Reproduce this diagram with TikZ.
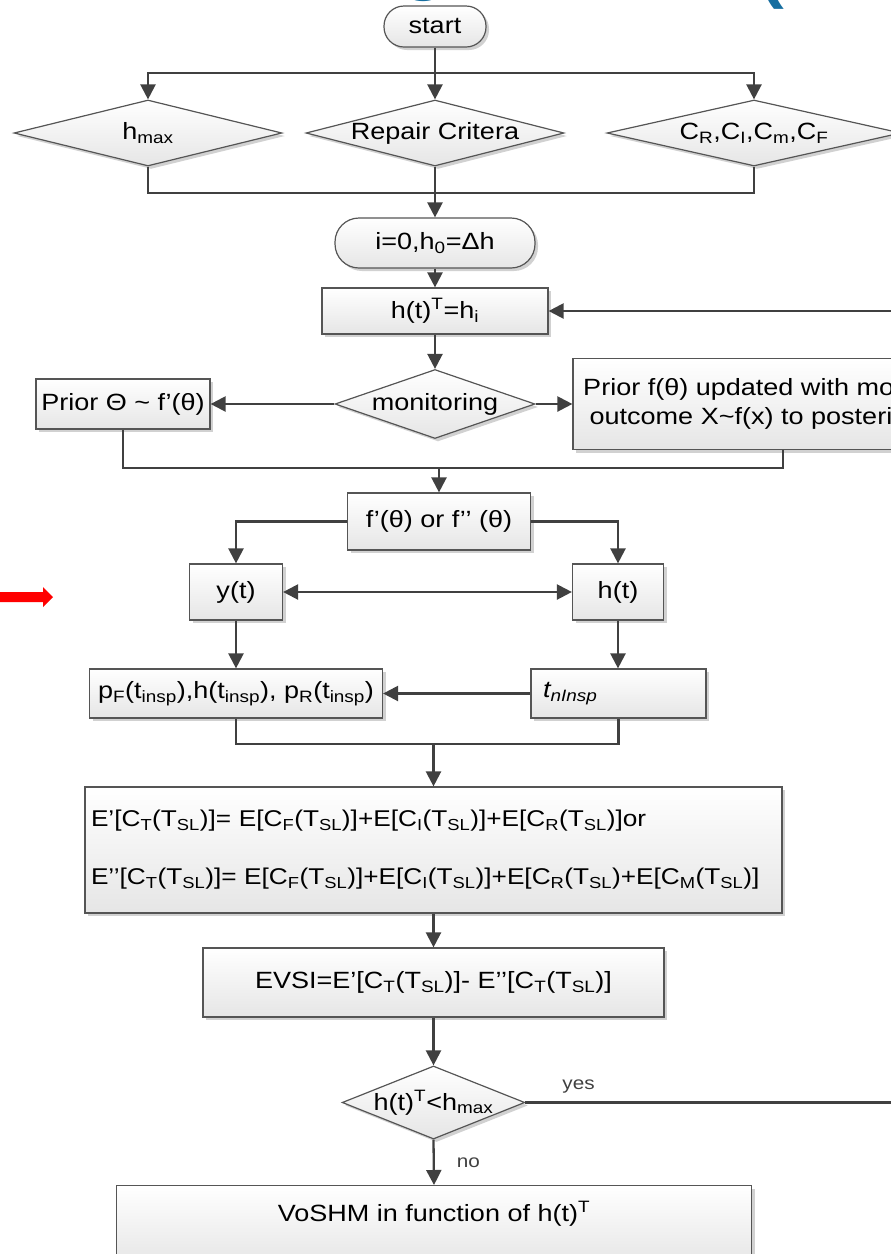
\documentclass[tikz,border=0pt]{standalone}
\usepackage{fontspec}
\setmainfont[FakeStretch=1.15]{Liberation Sans}
\usepackage{xcolor}
\usetikzlibrary{positioning}
\usetikzlibrary{calc}
\usetikzlibrary{arrows.meta}
\usetikzlibrary{shapes.geometric}
\usetikzlibrary{shadows}
\definecolor{mline}{RGB}{64,64,64}
\definecolor{mborder}{RGB}{85,85,85}
\definecolor{mred}{RGB}{255,0,0}
\definecolor{mblue}{RGB}{22,110,160}

\begin{document}
\begin{tikzpicture}[x=1pt, y=-1pt, node distance=60pt,
    block/.style={draw=mborder, line width=1.2pt, top color=white, bottom color=black!10,
        drop shadow={shadow xshift=3pt, shadow yshift=-3pt, fill=black!18, opacity=1},
        inner sep=0pt, align=center, font=\fontsize{23.5}{28}\selectfont},
    process/.style={block, rectangle},
    terminal/.style={block, rectangle, rounded corners=20pt},
    decision/.style={block, diamond},
    lbl/.style={inner sep=0pt, font=\fontsize{18}{20}\selectfont},
    arrow_flow/.style={-{Triangle[length=15pt, width=15pt]}, line width=2.3pt, mline},
    arrow_both/.style={{Triangle[length=15pt, width=15pt]}-{Triangle[length=15pt, width=15pt]}, line width=2.3pt, mline},
    line_flow/.style={line width=2.3pt, mline},
]
\useasboundingbox (0,0) rectangle (891,1254);
\clip (0,0) rectangle (891,1254);

% cut off pieces of the page around the chart
\node[anchor=base, text=mblue, font=\fontsize{62}{62}\selectfont\bfseries] (title_g) at (424,-12) {g};
\node[anchor=base, text=mblue, font=\fontsize{62}{62}\selectfont\bfseries] (title_paren) at (772,-4) {(};
\fill[mred] (0,592) -- (43,592) -- (43,587) -- (53,597) -- (43,607) -- (43,602) -- (0,602) -- cycle;

\node[terminal, minimum width=102pt, minimum height=41pt] (start) at (435,26.5) {start};

\node[decision, below of=start, yshift=-46.5pt, aspect=3.9, minimum width=258pt, minimum height=66pt] (repair) {Repair Critera};
\node[decision, left of=repair, xshift=-227pt, aspect=4.06, minimum width=268pt, minimum height=66pt] (hmax) {h\textsubscript{max}};
\node[decision, right of=repair, xshift=259pt, aspect=4.45, minimum width=294pt, minimum height=66pt] (cost) {C\textsubscript{R},C\textsubscript{I},C\textsubscript{m},C\textsubscript{F}};

\node[terminal, below of=repair, yshift=-50pt, rounded corners=24pt, minimum width=200pt, minimum height=50pt] (init) {i=0,h\textsubscript{0}=Δh};
\node[process, below of=init, yshift=-8pt, minimum width=226pt, minimum height=46pt] (htbox) {h(t)\textsuperscript{T}=h\textsubscript{i}};
\node[decision, below of=htbox, yshift=-33pt, aspect=2.9, minimum width=200pt, minimum height=69pt] (monitor) {monitoring};

\node[process, left of=monitor, xshift=-252pt, minimum width=174pt, minimum height=50pt] (prior_a) {Prior Θ \textasciitilde{} f’(θ)};
\node[process, right of=monitor, xshift=288pt, minimum width=420pt, minimum height=91pt, font=\fontsize{23.5}{29}\selectfont] (prior_b) {Prior f(θ) updated with monitoring\\outcome X\textasciitilde{}f(x) to posterior f’’(θ)};

\node[process, below of=monitor, xshift=4pt, yshift=-57.5pt, minimum width=183pt, minimum height=57pt] (ftheta) {f’(θ) or f’’ (θ)};
\node[process, below of=ftheta, xshift=-203pt, yshift=-10.5pt, minimum width=93pt, minimum height=56pt] (yt) {y(t)};
\node[process, below of=ftheta, xshift=179pt, yshift=-10.5pt, minimum width=91pt, minimum height=56pt] (ht) {h(t)};

\node[process, below of=yt, yshift=-41.5pt, minimum width=293pt, minimum height=49pt] (pf) {p\textsubscript{F}(t\textsubscript{insp}),h(t\textsubscript{insp}), p\textsubscript{R}(t\textsubscript{insp})};
\node[process, below of=ht, xshift=0.5pt, yshift=-41.5pt, text width=151pt, inner xsep=12pt, align=left, minimum height=49pt] (tn) {\textit{t\textsubscript{nInsp}}};

\node[process, below of=ftheta, xshift=-5.5pt, yshift=-268.5pt, text width=685pt, inner xsep=6pt, align=left, minimum height=126pt, font=\fontsize{22.8}{58}\selectfont] (ecost) {E’[C\textsubscript{T}(T\textsubscript{SL})]= E[C\textsubscript{F}(T\textsubscript{SL})]+E[C\textsubscript{I}(T\textsubscript{SL})]+E[C\textsubscript{R}(T\textsubscript{SL})]or\\E’’[C\textsubscript{T}(T\textsubscript{SL})]= E[C\textsubscript{F}(T\textsubscript{SL})]+E[C\textsubscript{I}(T\textsubscript{SL})]+E[C\textsubscript{R}(T\textsubscript{SL})+E[C\textsubscript{M}(T\textsubscript{SL})]};
\node[process, below of=ecost, yshift=-72.5pt, minimum width=461pt, minimum height=69pt] (evsi) {EVSI=E’[C\textsubscript{T}(T\textsubscript{SL})]- E’’[C\textsubscript{T}(T\textsubscript{SL})]};
\node[decision, below of=evsi, yshift=-60pt, aspect=2.5, minimum width=173pt, minimum height=69pt] (decide) {h(t)\textsuperscript{T}<h\textsubscript{max}};
\node[process, below of=decide, anchor=north, xshift=0.5pt, yshift=-22.5pt, minimum width=635pt, text height=35.5pt, text depth=44.5pt] (voshm) {VoSHM in function of h(t)\textsuperscript{T}};

% split and merge points
\coordinate[above of=repair] (split_top);
\coordinate[below of=repair] (merge_top);
\coordinate[above of=ftheta, yshift=-6.5pt] (merge_mid);
\coordinate[above of=ecost, yshift=46pt] (merge_low);
\coordinate[right of=decide, xshift=411.5pt] (right_of_decide);

\draw[line_flow] (start.south) -- (split_top);
\draw[arrow_flow] (split_top) -| (hmax.north);
\draw[arrow_flow] (split_top) -- (repair.north);
\draw[arrow_flow] (split_top) -| (cost.north);

\draw[line_flow] (hmax.south) |- (merge_top) -| (cost.south);
\draw[arrow_flow] (repair.south) -- (init.north);
\draw[arrow_flow] (init.south) -- (htbox.north);
\draw[arrow_flow] (htbox.south) -- (monitor.north);

\draw[arrow_flow] (monitor.west) -- (prior_a.east);
\draw[arrow_flow] (monitor.east) -- (prior_b.west);
\draw[line_flow] (prior_a.south) |- (merge_mid) -| (prior_b.south);
\draw[arrow_flow] (merge_mid) -- (ftheta.north);

\draw[arrow_flow] (ftheta.west) -| (yt.north);
\draw[arrow_flow] (ftheta.east) -| (ht.north);
\draw[arrow_both] (yt.east) -- (ht.west);
\draw[arrow_flow] (yt.south) -- (yt.south |- pf.north);
\draw[arrow_flow] (ht.south) -- (ht.south |- tn.north);
\draw[arrow_flow] (tn.west) -- (pf.east);

\draw[line_flow] (pf.south) |- (merge_low) -| (tn.south);
\draw[arrow_flow] (merge_low) -- (ecost.north);
\draw[arrow_flow] (ecost.south) -- (evsi.north);
\draw[arrow_flow] (evsi.south) -- (decide.north);

% loop back and exit
\draw[arrow_flow] (decide.east) -- node[lbl, pos=0.14, above=8pt] {yes} (right_of_decide) |- (htbox.east);
\draw[arrow_flow] (decide.south) -- node[lbl, right=22pt] {no} (voshm.north);

\end{tikzpicture}
\end{document}
